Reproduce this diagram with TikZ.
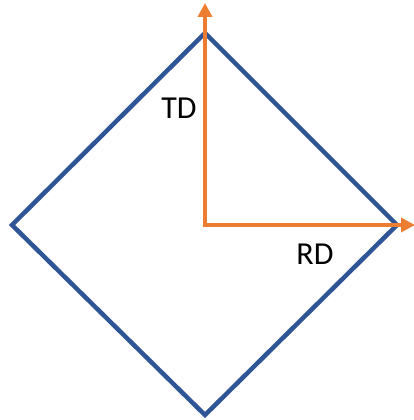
\documentclass[tikz,border=0pt]{standalone}
\usepackage{fontspec}
\setmainfont{Carlito}
\usetikzlibrary{arrows.meta}
\definecolor{edgeblue}{HTML}{2F5597}
\definecolor{axisorange}{HTML}{ED7D31}
\tikzset{
  rim/.style={draw=edgeblue, line width=4.5pt, line join=miter},
  axis/.style={draw=axisorange, line width=3.5pt, -{Triangle[length=14pt,width=14pt]}},
  tag/.style={font=\fontsize{32}{38}\selectfont, text=black, inner sep=0pt}
}
\begin{document}
\begin{tikzpicture}[x=1pt,y=-1pt]
  \useasboundingbox (0,0) rectangle (414,420);
  % diamond corners and centre
  \coordinate (top) at (205,33);
  \coordinate (right) at (397,225);
  \coordinate (bottom) at (205,415);
  \coordinate (left) at (12,225);
  \coordinate (o) at (205,225);
  \coordinate (up) at (205,3);
  \coordinate (east) at (415,225);
  % outline
  \draw[rim] (top) -- (right) -- (bottom) -- (left) -- cycle;
  % axes from the centre
  \draw[axis] (o) -- (up);
  \draw[axis] ([xshift=-1.75pt]o) -- (east);
  % labels
  \node[tag] (td) at (179,108) {TD};
  \node[tag] (rd) at (315,254) {RD};
\end{tikzpicture}
\end{document}
